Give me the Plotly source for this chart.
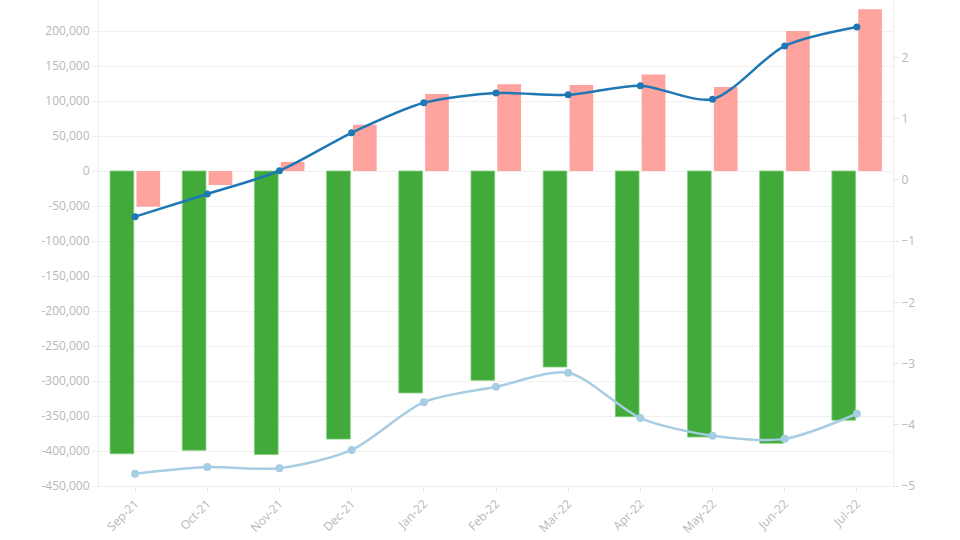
import plotly.graph_objects as go

months = ["Sep-21", "Oct-21", "Nov-21", "Dec-21", "Jan-22", "Feb-22",
          "Mar-22", "Apr-22", "May-22", "Jun-22", "Jul-22"]
green_vals = [-404000, -399000, -405000, -383000, -317000, -299000,
              -280000, -351000, -380000, -389000, -356000]
pink_vals = [-51000, -20000, 13000, 66000, 110000, 124000,
             123000, 138000, 120000, 200000, 231000]
dark_line = [-0.60, -0.23, 0.15, 0.77, 1.26, 1.42, 1.39, 1.54, 1.32, 2.19, 2.50]
light_line = [-4.80, -4.69, -4.71, -4.41, -3.63, -3.38, -3.15, -3.89, -4.18, -4.23, -3.82]

left_ticks = list(range(-450000, 250001, 50000))
right_ticks = [-5, -4, -3, -2, -1, 0, 1, 2]

fig = go.Figure()
fig.add_trace(go.Bar(x=months, y=green_vals, marker=dict(color="#42a93b", line=dict(color="#7fd07a", width=0.8)),
                     name="A"))
fig.add_trace(go.Bar(x=months, y=pink_vals, marker=dict(color="#ffa39f", line=dict(width=0)),
                     name="B"))
fig.add_trace(go.Scatter(x=months, y=dark_line, yaxis="y2", mode="lines+markers",
                         line=dict(color="#1f77b4", width=2.5, shape="spline", smoothing=0.8),
                         marker=dict(size=7, color="#1f77b4"), name="C"))
fig.add_trace(go.Scatter(x=months, y=light_line, yaxis="y2", mode="lines+markers",
                         line=dict(color="#a6cde3", width=2.5, shape="spline", smoothing=0.8),
                         marker=dict(size=8, color="#a6cde3"), name="D"))

tickfont = dict(family="Open Sans", size=12, color="#b8b8b8")
fig.update_layout(
    width=960, height=540,
    margin=dict(l=99, r=67, t=0, b=54),
    paper_bgcolor="white", plot_bgcolor="white",
    barmode="group", bargap=0.27, bargroupgap=0.1,
    showlegend=False,
    xaxis=dict(range=[-0.5, 10.5], tickangle=-45, tickfont=tickfont, showgrid=False, automargin=False,
               showline=True, linecolor="#eeeeee", ticks="outside",
               ticklen=5, tickcolor="#e6e6e6"),
    yaxis=dict(range=[-450000, 244300], tickvals=left_ticks, automargin=False,
               ticktext=[f"{v:,}" for v in left_ticks], tickfont=tickfont,
               showgrid=True, gridcolor="#f0f0f0", zeroline=False,
               showline=True, linecolor="#eeeeee", ticks="outside",
               ticklen=6, tickcolor="#eeeeee"),
    yaxis2=dict(range=[-5, 2.94], tickvals=right_ticks, tickfont=tickfont, automargin=False,
                overlaying="y", side="right", showgrid=False, zeroline=False,
                showline=True, linecolor="#eeeeee", ticks="outside",
                ticklen=5, tickcolor="#e6e6e6"),
)
fig.write_html("out.html", config={"displayModeBar": False},
               post_script="document.body.style.margin='0px';")
